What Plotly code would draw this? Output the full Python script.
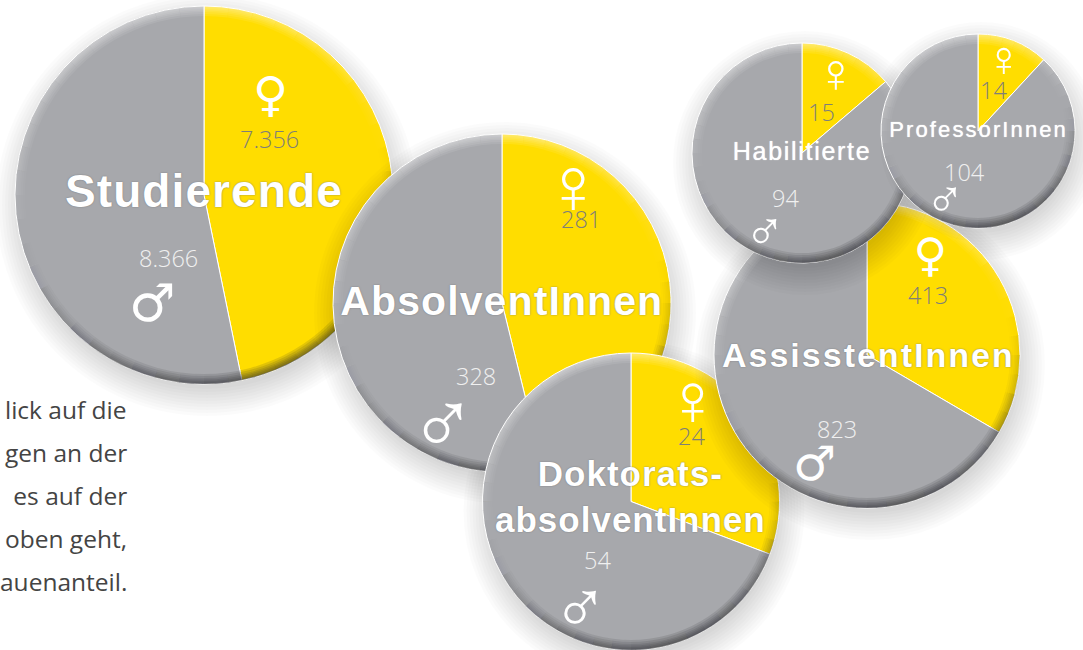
import math
import plotly.graph_objects as go

W, H = 1083, 650

# -------- DATA --------
names = ["Studierende", "AbsolventInnen", "Doktorats-<br>absolventInnen",
         "AssisstentInnen", "Habilitierte", "ProfessorInnen"]
women = [7356, 281, 24, 413, 15, 14]
men = [8366, 328, 54, 823, 94, 104]
women_labels = ["7.356", "281", "24", "413", "15", "14"]
men_labels = ["8.366", "328", "54", "823", "94", "104"]
text_lines = ["lick auf die", "gen an der", " es auf der", "oben geht,", "auenanteil."]

# -------- LAYOUT IN PIXELS --------
centers = [(204, 195), (502, 303), (631, 501.5), (867, 355), (802, 153), (978, 131)]
radii = [189, 169, 148.5, 153, 110, 97]
name_pos = [(204, 191), (502, 301), (630, 496), (868, 355), (802, 151), (978, 129)]
name_sizes = [46, 41, 35, 34, 25, 22]
name_weights = [700, 700, 700, 700, 400, 400]
name_spacing = [1.1, 1.1, 1.0, 2.0, 1.7, 2.1]
women_num_pos = [(269, 139), (581, 219), (691, 436), (928, 295), (821, 112), (993, 90)]
men_num_pos = [(168, 258), (476, 376), (598, 560), (837, 429), (785, 198), (964, 172)]
num_size = 23.5
women_sym_pos = [(270, 94), (573, 185), (693, 399), (931, 255), (835.5, 73), (1003.5, 59)]
men_sym_pos = [(152, 303), (443, 422), (580, 607), (814, 463), (764, 231), (945, 198)]
women_sym_sizes = [48, 80, 74, 46, 55, 50]
men_sym_sizes = [52, 90, 75, 48, 55, 53]
sym_weights = [400, 200, 200, 400, 200, 200]
text_y = [409, 452, 495, 538, 581]

GREY = "#a7a8ac"
YELLOW = "#ffdd00"


def domain(cx, cy, r):
    return {"x": [(cx - r) / W, (cx + r) / W], "y": [1 - (cy + r) / H, 1 - (cy - r) / H]}


def fits(cx, cy, r):
    return cx - r >= 0 and cx + r <= W and cy - r >= 0 and cy + r <= H


def rim_colors(n=48):
    # dark towards lower right, light towards upper left
    colors = []
    for i in range(n):
        angle = (i + 0.5) / n * 2 * math.pi
        c = math.cos(angle - math.radians(165))
        if c > 0:
            colors.append(f"rgba(40,40,45,{0.14 * c ** 1.5:.3f})")
        else:
            colors.append(f"rgba(255,255,255,{0.09 * (-c):.3f})")
    return colors


fig = go.Figure()
shapes = []
annotations = []


def add_text(x, y, text, size, color, family="Open Sans", weight=None, shadow=None, xanchor="center"):
    font = dict(family=family, size=size, color=color)
    if weight:
        font["weight"] = weight
    if shadow:
        font["shadow"] = shadow
    annotations.append(dict(x=x / W, y=1 - y / H, xref="paper", yref="paper", text=text,
                            showarrow=False, xanchor=xanchor, yanchor="middle", font=font))


for i, name in enumerate(names):
    cx, cy = centers[i]
    r = radii[i]

    # soft drop shadow
    for k in range(10):
        sr = r + 22 - k * 3
        sx, sy = cx + 3, cy + 10
        if fits(sx, sy, sr):
            fig.add_trace(go.Pie(values=[1], marker=dict(colors=["rgba(0,0,0,0.016)"], line=dict(width=0)),
                                 domain=domain(sx, sy, sr), textinfo="none", hoverinfo="skip",
                                 showlegend=False, sort=False))
        else:
            shapes.append(dict(type="circle", xref="paper", yref="paper", layer="below",
                               x0=(sx - sr) / W, x1=(sx + sr) / W, y0=1 - (sy + sr) / H, y1=1 - (sy - sr) / H,
                               fillcolor="rgba(0,0,0,0.016)", line=dict(width=0)))

    # the pie itself
    fig.add_trace(go.Pie(values=[women[i], men[i]], sort=False, direction="clockwise", rotation=0,
                         marker=dict(colors=[YELLOW, GREY], line=dict(color="white", width=1)),
                         domain=domain(cx, cy, r), textinfo="none", hoverinfo="skip", showlegend=False))

    # bevel along the edge
    for d in [1.5, 3, 4.5, 6, 8, 10]:
        fig.add_trace(go.Pie(values=[1] * 48, sort=False, direction="clockwise", rotation=0,
                             hole=(r - d) / r,
                             marker=dict(colors=rim_colors(), line=dict(width=0)),
                             domain=domain(cx, cy, r), textinfo="none", hoverinfo="skip", showlegend=False))

    add_text(*name_pos[i], name, name_sizes[i], "white", family="Liberation Sans", weight=name_weights[i],
             shadow="0 0 1.5px #6d6e71" if name_weights[i] == 700 else "0 0 1px #ffffff")
    add_text(*women_num_pos[i], women_labels[i], num_size, "#7f7f78", weight=300)
    add_text(*men_num_pos[i], men_labels[i], num_size, "#f0f0f0", weight=300)
    add_text(*women_sym_pos[i], "♀", women_sym_sizes[i], "white", family="DejaVu Sans", weight=sym_weights[i])
    add_text(*men_sym_pos[i], "♂", men_sym_sizes[i], "white", family="DejaVu Sans", weight=sym_weights[i])

for line, y in zip(text_lines, text_y):
    add_text(129, y, line, 24.5, "#444444", weight=400, xanchor="right")

fig.update_layout(width=W, height=H, autosize=False, margin=dict(l=0, r=0, t=0, b=0),
                  paper_bgcolor="white", plot_bgcolor="white", showlegend=False,
                  shapes=shapes, annotations=annotations)

# annotations have no letter spacing setting, so it goes in as page css
css = "".join(f'text.annotation-text[style*="font-size: {s}px"]{{letter-spacing:{ls}px}}'
              for s, ls in zip(name_sizes, name_spacing))
post = ("document.body.style.margin='0';"
        "var st=document.createElement('style');st.textContent=%r;document.head.appendChild(st);" % css)
fig.write_html("out.html", post_script=post, config={"displayModeBar": False})
